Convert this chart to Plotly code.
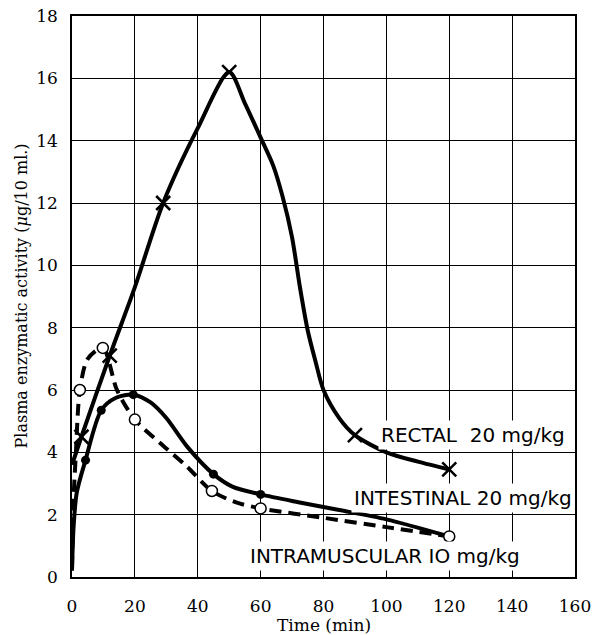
import plotly.graph_objects as go

# ---- data ----
# Rectal 20 mg/kg (solid, X markers)
rectal_curve_x = [0, 3, 12, 20, 29, 40, 50, 55, 60, 64, 67, 70, 72.5, 75, 77.5, 80, 85, 90, 100, 110, 120]
rectal_curve_y = [3.6, 4.5, 7.1, 9.3, 12.0, 14.4, 16.2, 15.2, 14.1, 13.2, 12.2, 10.9, 9.3, 7.9, 6.9, 6.0, 5.1, 4.55, 4.0, 3.7, 3.45]
rectal_pts_x = [3, 12, 29, 50, 90, 120]
rectal_pts_y = [4.5, 7.1, 12.0, 16.2, 4.55, 3.45]

# Intestinal 20 mg/kg (solid, filled dots)
intest_curve_x = [0, 0.5, 1.5, 4.3, 9.3, 14, 19.5, 25, 30, 36.5, 45, 51, 60, 72, 85, 100, 120]
intest_curve_y = [0.2, 1.6, 2.7, 3.75, 5.35, 5.75, 5.85, 5.6, 5.1, 4.2, 3.3, 2.9, 2.65, 2.4, 2.15, 1.85, 1.3]
intest_pts_x = [4.3, 9.3, 19.5, 45, 60]
intest_pts_y = [3.75, 5.35, 5.85, 3.3, 2.65]

# Intramuscular 10 mg/kg (dashed, open circles)
im_curve_x = [0, 0.5, 1.2, 2.5, 5, 9.8, 14.3, 20, 28, 36.5, 44.5, 52, 60, 80, 100, 120]
im_curve_y = [0.3, 2.5, 3.9, 6.0, 7.0, 7.35, 6.0, 5.05, 4.3, 3.55, 2.76, 2.4, 2.2, 1.9, 1.6, 1.3]
im_pts_x = [2.5, 9.8, 20, 44.5, 60, 120]
im_pts_y = [6.0, 7.35, 5.05, 2.76, 2.2, 1.3]

x_ticks = [0, 20, 40, 60, 80, 100, 120, 140, 160]
y_ticks = [0, 2, 4, 6, 8, 10, 12, 14, 16, 18]

labels = ["RECTAL\u00a0\u00a020 mg/kg", "INTESTINAL 20 mg/kg", "INTRAMUSCULAR IO mg/kg"]
label_x = [127.4, 124.3, 99.5]
label_y = [4.55, 2.55, 0.68]

x_title = "Time (min)"
y_title = "Plasma enzymatic activity (<i>μ</i>g/10 ml.)"

fig = go.Figure()

fig.add_trace(go.Scatter(x=rectal_curve_x, y=rectal_curve_y, mode="lines",
                         line=dict(color="black", width=4, shape="spline", smoothing=0.8),
                         hoverinfo="skip", showlegend=False))
fig.add_trace(go.Scatter(x=intest_curve_x, y=intest_curve_y, mode="lines",
                         line=dict(color="black", width=4, shape="spline", smoothing=0.8),
                         hoverinfo="skip", showlegend=False))
fig.add_trace(go.Scatter(x=im_curve_x, y=im_curve_y, mode="lines",
                         line=dict(color="black", width=4, shape="spline", smoothing=0.8, dash="12px,7px"),
                         hoverinfo="skip", showlegend=False))

fig.add_trace(go.Scatter(x=rectal_pts_x, y=rectal_pts_y, mode="markers",
                         marker=dict(symbol="x-thin", size=14, line=dict(color="black", width=2.5)),
                         showlegend=False))
fig.add_trace(go.Scatter(x=intest_pts_x, y=intest_pts_y, mode="markers",
                         marker=dict(symbol="circle", size=9, color="black"),
                         showlegend=False))
fig.add_trace(go.Scatter(x=im_pts_x, y=im_pts_y, mode="markers",
                         marker=dict(symbol="circle", size=11, color="white", line=dict(color="black", width=1.5)),
                         showlegend=False))

for t, lx, ly in zip(labels, label_x, label_y):
    fig.add_annotation(x=lx, y=ly, xref="x", yref="y", text=t, showarrow=False,
                       font=dict(family="DejaVu Sans", size=20, color="black"),
                       bgcolor="white", borderpad=2)

# axis titles
fig.add_annotation(x=0.5, y=0, xref="paper", yref="paper", text=x_title, showarrow=False,
                   xanchor="center", yanchor="middle", yshift=-48,
                   font=dict(family="DejaVu Serif", size=17, color="black"))
fig.add_annotation(x=0, y=0.5, xref="paper", yref="paper", text=y_title, showarrow=False,
                   xanchor="center", yanchor="middle", xshift=-51, textangle=-90,
                   font=dict(family="DejaVu Serif", size=16, color="black"))

axis_font = dict(family="DejaVu Serif", size=17, color="black")

fig.update_xaxes(range=[0, 160], tickvals=x_ticks, ticktext=[str(v) for v in x_ticks],
                 showgrid=True, gridcolor="black", gridwidth=1,
                 showline=True, linecolor="black", linewidth=1.5, mirror=True,
                 zeroline=False, ticks="", tickfont=axis_font, ticklabelstandoff=13,
                 automargin=False)
fig.update_yaxes(range=[0, 18], tickvals=y_ticks, ticktext=[str(v) for v in y_ticks],
                 showgrid=True, gridcolor="black", gridwidth=1,
                 showline=True, linecolor="black", linewidth=1.5, mirror=True,
                 zeroline=False, ticks="", tickfont=axis_font, ticklabelstandoff=9,
                 automargin=False)

fig.update_layout(width=596, height=635, margin=dict(l=72, r=21, t=16, b=58),
                  plot_bgcolor="white", paper_bgcolor="white")

# remove the default 8px page margin so the figure fills the window exactly
fig.write_html("out.html", config={"displayModeBar": False},
               post_script="document.body.style.margin='0px';document.body.style.overflow='hidden';")
